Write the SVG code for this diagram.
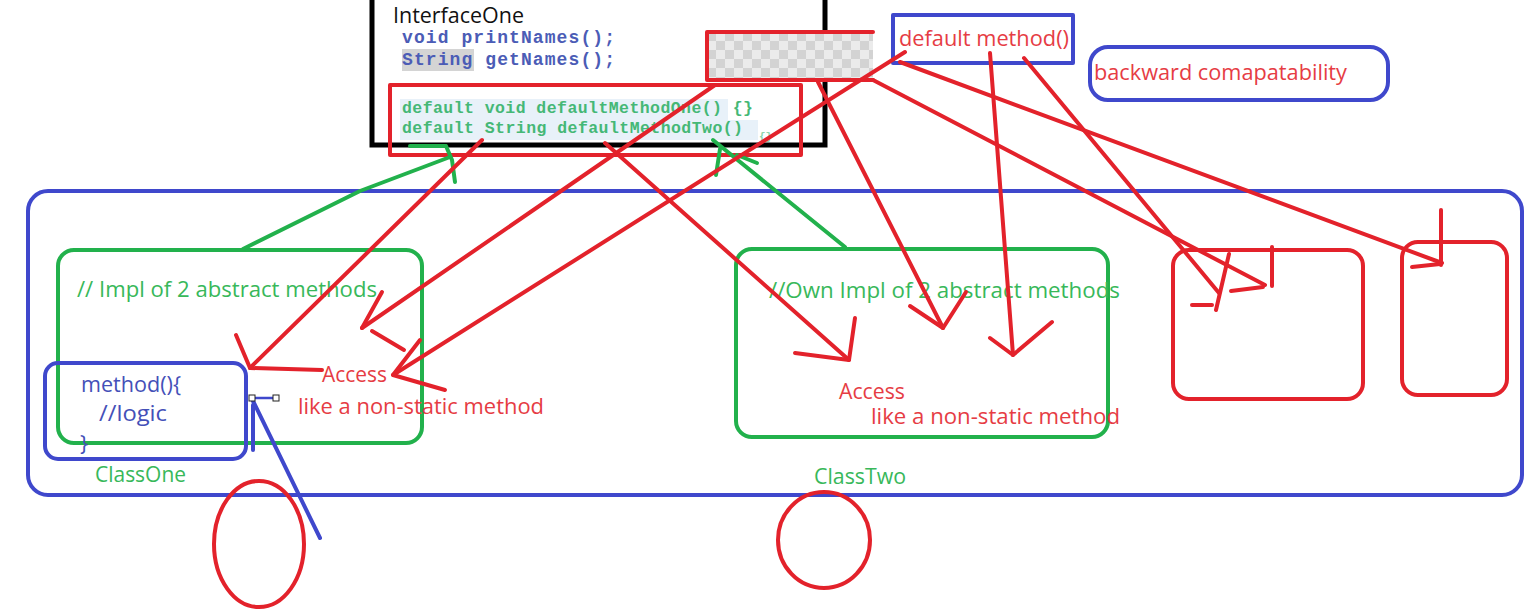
<svg xmlns="http://www.w3.org/2000/svg" width="1532" height="610" viewBox="0 0 1532 610">
<defs>
<pattern id="checker" x="707" y="32" width="18" height="18" patternUnits="userSpaceOnUse">
<rect width="18" height="18" fill="#ebebeb"/>
<rect width="9" height="9" fill="#d3d3d3"/>
<rect x="9" y="9" width="9" height="9" fill="#d3d3d3"/>
</pattern>
</defs>
<style>
.hand{font-family:"Open Sans","Noto Sans","Liberation Sans",sans-serif;font-size:22px;font-weight:500}
.code{font-family:"Liberation Mono","DejaVu Sans Mono",monospace;font-weight:bold}
.rt{fill:#e63c44}
.gt{fill:#38b85a}
.bt{fill:#4450b8}
.rp{fill:none;stroke:#e3222b;stroke-width:4;stroke-linecap:round;stroke-linejoin:round}
.bp{fill:none;stroke:#3f48cc;stroke-width:4;stroke-linecap:round;stroke-linejoin:round}
.gp{fill:none;stroke:#22b14c;stroke-width:4;stroke-linecap:round;stroke-linejoin:round}
</style>
<rect width="1532" height="610" fill="#ffffff"/>

<g id="interfaceOne">
<rect x="372" y="-10" width="453" height="155" fill="#ffffff" stroke="#000000" stroke-width="5"/>
<text x="393" y="23" class="hand" fill="#111111" textLength="131" lengthAdjust="spacingAndGlyphs">InterfaceOne</text>
<rect x="402" y="49" width="72" height="22" fill="#d4d4d4"/>
<text x="402" y="43" class="code" font-size="18" fill="#4b5cb6" textLength="213">void printNames();</text>
<text x="402" y="65" class="code" font-size="18" fill="#4b5cb6" textLength="213">String getNames();</text>
</g>

<g id="defaultMethods">
<rect x="400" y="99" width="328" height="21" fill="#e8f1f9"/>
<rect x="400" y="120" width="358" height="20" fill="#e8f1f9"/>
<text x="402" y="113" class="code" font-size="16.5" fill="#45b876" textLength="351">default void defaultMethodOne() {}</text>
<text x="402" y="133" class="code" font-size="16.5" fill="#45b876" textLength="341">default String defaultMethodTwo()</text>
<text x="759" y="140" class="code" font-size="11" fill="#45b876" opacity="0.6">{}</text>
<rect x="390" y="85" width="411" height="70" class="rp"/>
</g>

<g id="checkerBox">
<rect x="707" y="32" width="166" height="48" fill="url(#checker)"/>
<polyline points="873,32 707,32 707,80 873,80" class="rp"/>
</g>

<g id="defaultMethodNote">
<rect x="893" y="15" width="180" height="48" fill="#ffffff" class="bp"/>
<text x="899" y="46" class="hand rt" textLength="170" lengthAdjust="spacingAndGlyphs">default method()</text>
</g>

<g id="backwardNote">
<rect x="1090" y="47" width="298" height="53" rx="18" class="bp"/>
<text x="1094" y="80" class="hand rt" textLength="253" lengthAdjust="spacingAndGlyphs">backward comapatability</text>
</g>

<g id="outerContainer">
<rect x="28" y="191" width="1494" height="304" rx="20" class="bp"/>
</g>

<g id="classOne">
<rect x="58" y="250" width="364" height="193" rx="16" class="gp"/>
<text x="77" y="297" class="hand gt" textLength="300" lengthAdjust="spacingAndGlyphs">// Impl of 2 abstract methods</text>
<text x="95" y="482" class="hand gt" textLength="91" lengthAdjust="spacingAndGlyphs">ClassOne</text>
<text x="322" y="382" class="hand rt" textLength="65" lengthAdjust="spacingAndGlyphs">Access</text>
<text x="298" y="414" class="hand rt" textLength="246" lengthAdjust="spacingAndGlyphs">like a non-static method</text>
</g>

<g id="methodBox">
<rect x="45" y="363" width="201" height="96" rx="13" class="bp"/>
<text x="81" y="392" class="hand bt" textLength="100" lengthAdjust="spacingAndGlyphs">method(){</text>
<text x="99" y="421" class="hand bt" textLength="68" lengthAdjust="spacingAndGlyphs">//logic</text>
<text x="80" y="451" class="hand bt">}</text>
</g>

<g id="classTwo">
<rect x="736" y="249" width="372" height="188" rx="16" class="gp"/>
<text x="769" y="298" class="hand gt" textLength="351" lengthAdjust="spacingAndGlyphs">//Own Impl of 2 abstract methods</text>
<text x="814" y="484" class="hand gt" textLength="92" lengthAdjust="spacingAndGlyphs">ClassTwo</text>
<text x="839" y="399" class="hand rt" font-size="21" textLength="66" lengthAdjust="spacingAndGlyphs">Access</text>
<text x="871" y="424" class="hand rt" font-size="21" textLength="249" lengthAdjust="spacingAndGlyphs">like a non-static method</text>
</g>

<g id="redBoxMiddle">
<rect x="1173" y="250" width="190" height="149" rx="16" class="rp"/>
</g>

<g id="redBoxRight">
<rect x="1402" y="242" width="105" height="153" rx="16" class="rp"/>
</g>

<g id="ellipseOne">
<ellipse cx="259" cy="544" rx="45" ry="63" class="rp"/>
</g>

<g id="ellipseTwo">
<ellipse cx="824" cy="540" rx="46" ry="48" class="rp"/>
</g>

<g id="connectors">
<polyline points="243,249 360,191 450,157" class="gp"/>
<line x1="410" y1="146" x2="445" y2="146" class="gp"/>
<polyline points="446,146 452,160 455,182" class="gp"/>
<line x1="845" y1="247" x2="713" y2="140" class="gp"/>
<line x1="720" y1="149" x2="716" y2="175" class="gp"/>
<line x1="737" y1="155" x2="757" y2="163" class="gp"/>

<line x1="482" y1="140" x2="250" y2="368" class="rp"/>
<polyline points="236,335 250,368 322,370" class="rp"/>
<line x1="715" y1="85" x2="362" y2="328" class="rp"/>
<polyline points="382,292 362,328" class="rp"/>
<line x1="372" y1="331" x2="404" y2="350" class="rp"/>
<line x1="905" y1="52" x2="393" y2="375" class="rp"/>
<polyline points="420,340 393,375 445,390" class="rp"/>

<line x1="605" y1="143" x2="849" y2="360" class="rp"/>
<polyline points="795,353 849,360 855,318" class="rp"/>
<line x1="818" y1="82" x2="943" y2="328" class="rp"/>
<polyline points="910,306 943,328 966,292" class="rp"/>
<line x1="990" y1="53" x2="1013" y2="355" class="rp"/>
<polyline points="990,338 1013,355 1052,322" class="rp"/>

<line x1="873" y1="80" x2="1265" y2="285" class="rp"/>
<line x1="1272" y1="247" x2="1272" y2="286" class="rp"/>
<line x1="1231" y1="291" x2="1263" y2="287" class="rp"/>
<line x1="1024" y1="58" x2="1219" y2="293" class="rp"/>
<line x1="1229" y1="254" x2="1216" y2="310" class="rp"/>
<line x1="1192" y1="305" x2="1212" y2="305" class="rp"/>
<line x1="900" y1="62" x2="1442" y2="263" class="rp"/>
<line x1="1441" y1="210" x2="1441" y2="265" class="rp"/>
<line x1="1412" y1="267" x2="1440" y2="264" class="rp"/>

<line x1="320" y1="538" x2="253" y2="401" class="bp"/>
<line x1="253" y1="405" x2="253" y2="450" class="bp"/>
<line x1="252" y1="398" x2="276" y2="398" stroke="#3f48cc" stroke-width="2.5"/>
<rect x="249" y="395" width="6" height="6" fill="#ffffff" stroke="#222222" stroke-width="1"/>
<rect x="273" y="395" width="6" height="6" fill="#ffffff" stroke="#222222" stroke-width="1"/>
</g>
</svg>
